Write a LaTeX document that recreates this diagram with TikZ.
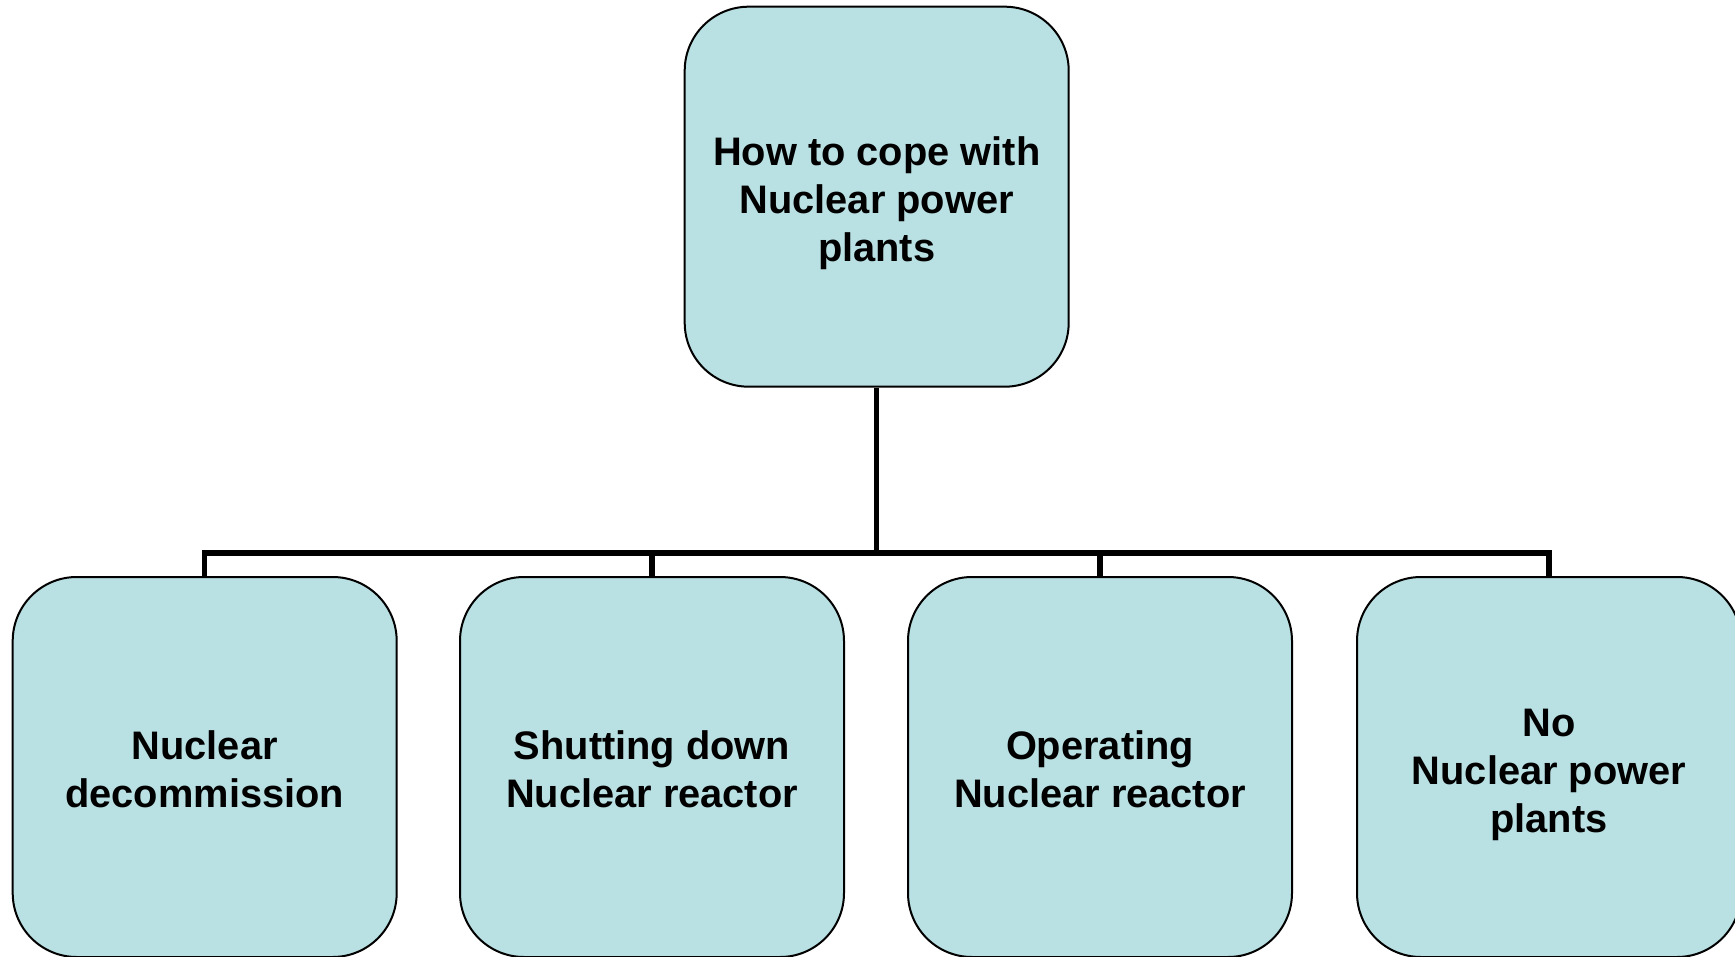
\documentclass[tikz,border=0pt]{standalone}
\usepackage{fontspec}
\setmainfont{Liberation Sans}
\definecolor{boxfill}{HTML}{B9E0E3}
\begin{document}
\begin{tikzpicture}[x=0.5pt,y=-0.5pt,
  box/.style={draw=black, line width=1pt, fill=boxfill, rounded corners=32pt,
    minimum width=192pt, minimum height=190pt, inner sep=0pt,
    align=center, font=\fontsize{19.9}{24}\selectfont\bfseries},
  conn/.style={draw=black, line width=2.75pt}]
\clip (0,0) rectangle (1735,957);
\useasboundingbox (0,0) rectangle (1735,957);
\node[box] (top) at (876.7,196.7) {\rule{0pt}{21.3pt}How to cope with\\Nuclear power\\plants};
\node[box] (c1) at (204.7,767) {\rule{0pt}{16.5pt}Nuclear\\decommission};
\node[box] (c2) at (652,767) {\rule{0pt}{16.5pt}Shutting down\\Nuclear reactor};
\node[box] (c3) at (1100,767) {\rule{0pt}{16.5pt}Operating\\Nuclear reactor};
\node[box] (c4) at (1549,767) {\rule{0pt}{21.3pt}No\\Nuclear power\\plants};
\coordinate (bus) at (876.7,553);
\draw[conn] (top.south) -- (bus);
\draw[conn] (bus) -| (c1.north);
\draw[conn] (bus) -| (c2.north);
\draw[conn] (bus) -| (c3.north);
\draw[conn] (bus) -| (c4.north);
\end{tikzpicture}
\end{document}
